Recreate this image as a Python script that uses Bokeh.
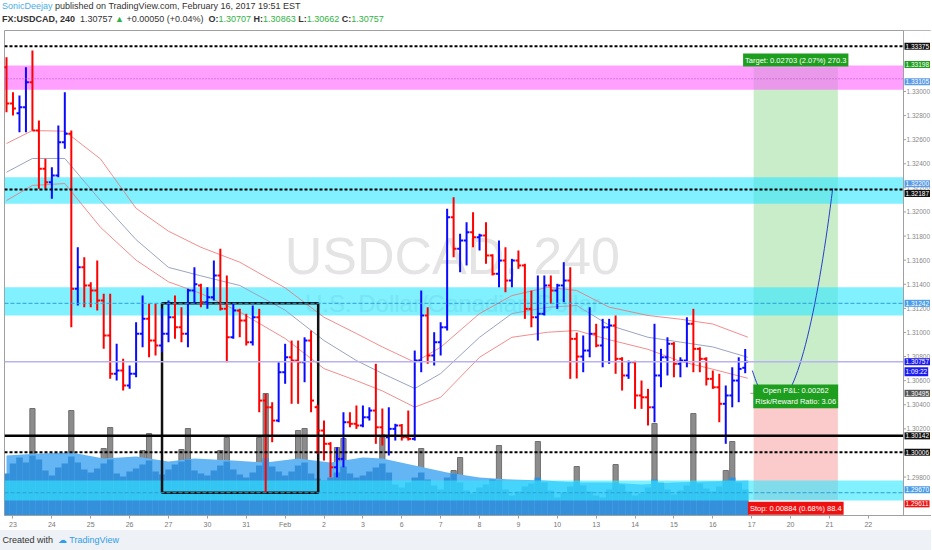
from bokeh.plotting import figure
from bokeh.layouts import column
from bokeh.models import ColumnDataSource, Range1d, FixedTicker, Label, Div
from bokeh.core.properties import value
from bokeh.embed import file_html
from bokeh.resources import INLINE

# USDCAD 240 bars, Jan 23 - Feb 16 2017
bar_open = [1.33201, 1.32900, 1.32820, 1.32869, 1.33077, 1.32676, 1.32358, 1.32247, 1.32303, 1.32579,
            1.32649, 1.31362, 1.31541, 1.31390, 1.31348, 1.31265, 1.30975, 1.30657, 1.30684, 1.30560,
            1.30657, 1.30989, 1.31113, 1.30933, 1.30892, 1.30989, 1.31126, 1.31043, 1.30989, 1.31348,
            1.31390, 1.31251, 1.31292, 1.31473, 1.31196, 1.30960, 1.31182, 1.31099, 1.30919, 1.31126,
            1.30435, 1.30379, 1.30269, 1.30670, 1.30794, 1.30767, 1.30753, 1.30933, 1.30380, 1.30186,
            1.30076, 1.29881, 1.29951, 1.30255, 1.30242, 1.30228, 1.30296, 1.30352, 1.30213, 1.30130,
            1.30200, 1.30228, 1.30130, 1.30117, 1.30767, 1.31141, 1.30809, 1.30919, 1.31043, 1.31956,
            1.31694, 1.31763, 1.31832, 1.31790, 1.31805, 1.31639, 1.31487, 1.31597, 1.31431, 1.31597,
            1.31556, 1.31196, 1.31126, 1.31155, 1.31390, 1.31348, 1.31390, 1.31431, 1.30947, 1.30800,
            1.30850, 1.30989, 1.30892, 1.31043, 1.31058, 1.30781, 1.30643, 1.30753, 1.30477, 1.30462,
            1.30379, 1.30643, 1.30794, 1.30906, 1.30740, 1.30767, 1.31072, 1.30864, 1.30781, 1.30615,
            1.30545, 1.30408, 1.30477, 1.30601, 1.30707]
bar_high = [1.33284, 1.32994, 1.32967, 1.33201, 1.33340, 1.32759, 1.32441, 1.32371, 1.32718, 1.32994,
            1.32676, 1.31707, 1.31624, 1.31417, 1.31597, 1.31321, 1.31321, 1.30906, 1.30781, 1.30726,
            1.31085, 1.31307, 1.31238, 1.31238, 1.31196, 1.31265, 1.31307, 1.31209, 1.31362, 1.31541,
            1.31404, 1.31375, 1.31597, 1.31694, 1.31473, 1.31238, 1.31196, 1.31155, 1.31224, 1.31196,
            1.30491, 1.30421, 1.30753, 1.30906, 1.30933, 1.30933, 1.30960, 1.31016, 1.30400, 1.30269,
            1.30090, 1.30047, 1.30338, 1.30338, 1.30394, 1.30394, 1.30379, 1.30740, 1.30369, 1.30379,
            1.30242, 1.30240, 1.30352, 1.30850, 1.31348, 1.31209, 1.31002, 1.31085, 1.32026, 1.32122,
            1.31819, 1.31915, 1.31998, 1.31819, 1.31915, 1.31650, 1.31763, 1.31707, 1.31611, 1.31680,
            1.31570, 1.31348, 1.31473, 1.31473, 1.31473, 1.31404, 1.31583, 1.31541, 1.30999, 1.30975,
            1.31209, 1.31072, 1.31113, 1.31113, 1.31141, 1.30795, 1.30767, 1.30765, 1.30601, 1.30532,
            1.31072, 1.30864, 1.30960, 1.30920, 1.30794, 1.31126, 1.31196, 1.30877, 1.30794, 1.30684,
            1.30657, 1.30560, 1.30711, 1.30794, 1.30863]
bar_low = [1.32828, 1.32801, 1.32662, 1.32662, 1.32676, 1.32192, 1.32192, 1.32109, 1.32288, 1.32524,
           1.31043, 1.31224, 1.31209, 1.31209, 1.31182, 1.30864, 1.30615, 1.30601, 1.30518, 1.30532,
           1.30628, 1.30877, 1.30794, 1.30809, 1.30836, 1.30919, 1.30947, 1.30919, 1.30877, 1.31238,
           1.31209, 1.31196, 1.31265, 1.31182, 1.30753, 1.30947, 1.30960, 1.30892, 1.30892, 1.30338,
           1.29674, 1.30089, 1.30255, 1.30574, 1.30408, 1.30408, 1.30587, 1.30338, 1.29993, 1.29937,
           1.29798, 1.29798, 1.29881, 1.30213, 1.30200, 1.30213, 1.30269, 1.30076, 1.30062, 1.29979,
           1.30103, 1.30103, 1.30103, 1.30103, 1.30670, 1.30740, 1.30726, 1.30809, 1.31016, 1.31624,
           1.31500, 1.31556, 1.31707, 1.31680, 1.31570, 1.31473, 1.31375, 1.31334, 1.31375, 1.31528,
           1.31113, 1.31043, 1.30933, 1.31141, 1.31238, 1.31196, 1.31251, 1.30615, 1.30618, 1.30670,
           1.30794, 1.30877, 1.30711, 1.30740, 1.30657, 1.30518, 1.30615, 1.30366, 1.30366, 1.30228,
           1.30255, 1.30545, 1.30643, 1.30628, 1.30628, 1.30711, 1.30670, 1.30670, 1.30560, 1.30532,
           1.30255, 1.30076, 1.30379, 1.30421, 1.30662]
bar_close = [1.32900, 1.32859, 1.32869, 1.33077, 1.32676, 1.32358, 1.32247, 1.32303, 1.32579, 1.32649,
             1.31362, 1.31541, 1.31390, 1.31348, 1.31265, 1.30975, 1.30657, 1.30684, 1.30560, 1.30657,
             1.30989, 1.31113, 1.30933, 1.30892, 1.30989, 1.31126, 1.31043, 1.30989, 1.31348, 1.31400,
             1.31251, 1.31292, 1.31473, 1.31196, 1.30960, 1.31182, 1.31099, 1.30919, 1.31126, 1.30435,
             1.30379, 1.30269, 1.30670, 1.30794, 1.30767, 1.30753, 1.30933, 1.30435, 1.30186, 1.30076,
             1.29881, 1.29951, 1.30255, 1.30242, 1.30228, 1.30296, 1.30352, 1.30213, 1.30145, 1.30200,
             1.30228, 1.30130, 1.30117, 1.30767, 1.31141, 1.30809, 1.30919, 1.31043, 1.31956, 1.31694,
             1.31763, 1.31832, 1.31790, 1.31805, 1.31639, 1.31487, 1.31597, 1.31431, 1.31597, 1.31556,
             1.31196, 1.31126, 1.31155, 1.31390, 1.31348, 1.31390, 1.31431, 1.30947, 1.30800, 1.30850,
             1.30989, 1.30892, 1.31043, 1.31058, 1.30781, 1.30643, 1.30753, 1.30477, 1.30462, 1.30379,
             1.30643, 1.30794, 1.30906, 1.30740, 1.30767, 1.31072, 1.30864, 1.30781, 1.30615, 1.30545,
             1.30408, 1.30477, 1.30601, 1.30698, 1.30757]

# volume (arbitrary units)
volume = [420, 520, 580, 530, 600, 560, 450, 400, 480, 520,
          590, 530, 460, 430, 470, 520, 560, 420, 390, 440,
          470, 510, 550, 440, 410, 460, 510, 540, 560, 450,
          420, 400, 450, 500, 540, 460, 410, 380, 430, 500,
          570, 490, 440, 400, 440, 500, 530, 420, 370, 350,
          380, 430, 490, 420, 380, 400, 440, 480, 520, 430,
          310, 280, 330, 380, 430, 360, 300, 260, 380, 420,
          330, 250, 220, 280, 310, 360, 350, 260, 200, 240,
          290, 320, 380, 330, 250, 180, 230, 290, 340, 300,
          240, 200, 180, 260, 330, 310, 240, 200, 220, 280,
          360, 330, 260, 210, 250, 300, 340, 320, 270, 240,
          290, 350, 380, 330, 260]
spike_idx = [4, 10, 15, 16, 21, 22, 27, 28, 33, 34, 39, 40, 45, 46, 51, 52, 58, 64,
             69, 70, 76, 82, 88, 94, 100, 106, 111, 112]
spike_vol = [1070, 1050, 670, 880, 650, 820, 660, 870, 650, 780, 780, 1220, 850, 870, 680, 770, 780, 670,
             450, 580, 700, 740, 490, 510, 920, 1020, 450, 740]
vol_ma_x = [0, 5, 10, 15, 20, 25, 29, 35, 40, 45, 50, 55, 58, 63, 68, 73, 78, 83, 88, 93, 98, 103, 108, 114.5]
vol_ma = [600, 620, 630, 570, 590, 540, 570, 550, 530, 570, 530, 580, 570, 500, 430, 380, 360, 350,
          330, 330, 310, 330, 340, 350]

# envelope
env_x = [0, 4, 9, 14.5, 20, 25, 30, 36, 43, 49, 54, 58, 63, 67, 73, 78, 83.5, 88, 93, 99, 104, 109, 114.4]
env_upper = [1.32568, 1.32676, 1.32670, 1.32440, 1.32030, 1.31840, 1.31707, 1.31583, 1.31370, 1.31126,
             1.30991, 1.30880, 1.30753, 1.30877, 1.31157, 1.31306, 1.31375, 1.31348, 1.31210, 1.31141,
             1.31110, 1.31070, 1.30961]
env_mid = [1.32330, 1.32444, 1.32444, 1.32095, 1.31770, 1.31540, 1.31470, 1.31390, 1.31185, 1.30933,
           1.30767, 1.30660, 1.30535, 1.30659, 1.30960, 1.31157, 1.31209, 1.31224, 1.31060, 1.30960,
           1.30920, 1.30880, 1.30794]
env_lower = [1.32095, 1.32220, 1.32236, 1.31873, 1.31600, 1.31420, 1.31323, 1.31170, 1.30950, 1.30700,
             1.30600, 1.30515, 1.30380, 1.30462, 1.30794, 1.30960, 1.31002, 1.31016, 1.30940, 1.30860,
             1.30760, 1.30695, 1.30620]

day_labels = ["23", "24", "25", "26", "27", "30", "31", "Feb", "2", "3", "6", "7", "8", "9", "10",
              "13", "14", "15", "16", "17", "20", "21", "22"]
bars_per_day = 6
price_ticks = [1.298, 1.300, 1.302, 1.304, 1.306, 1.308, 1.310, 1.312, 1.314, 1.316,
               1.318, 1.320, 1.322, 1.324, 1.326, 1.328, 1.330]

zone_top = [1.33216, 1.32288, 1.31375, 1.29771]
zone_bottom = [1.33014, 1.32068, 1.31141, 1.29605]
zone_color = ["#ff66ff", "#33e6ff", "#33e6ff", "#33e6ff"]

box_left, box_right, box_top, box_bottom = 24.0, 48.1, 1.31242, 1.29670
pos_left, pos_right = 115.3, 128.3
entry, target, stop = 1.30495, 1.33198, 1.29611
curve = dict(x0=115.1, y0=1.30684, cx0=120.0, cy0=1.29854, cx1=124.8, cy1=1.31016, x1=127.5, y1=1.32195)

levels = [1.33375, 1.33105, 1.32187, 1.31242, 1.30757, 1.30142, 1.30006, 1.29670]
level_color = ["black", "#b048c8", "black", "#2a9fd6", "#b8b2f0", "black", "black", "#2a9fd6"]
level_width = [2, 1, 2, 1, 1.5, 2.5, 2, 1]
level_dash = ["3 2", "1 2", "3 2", "4 2", "solid", "solid", "3 2", "4 2"]

badge_price = [1.33375, 1.33198, 1.33105, 1.32200, 1.32187, 1.31242, 1.30757, 1.30495, 1.30142, 1.30006,
               1.29670, 1.29611]
badge_color = ["#111111", "#1e9e1e", "#5b9be6", "#5b9be6", "#111111", "#4a9de8", "#1c1cf0", "#555555",
               "#111111", "#111111", "#4a9de8", "#ee1111"]
badge_shift = [0, 3, -3, 4, -4, 0, 0, 0, 0, 0, 3, -4]

FONT = "Liberation Sans"
x0, axis_x, x_end = -0.31, 138.43, 142.75
y0, y1 = 1.29481, 1.33506

p = figure(frame_width=927, frame_height=485, x_range=Range1d(x0, x_end), y_range=Range1d(y0, y1),
           y_axis_location=None, toolbar_location=None, output_backend="svg", title=None,
           min_border_left=4, min_border_right=0, min_border_top=0, min_border_bottom=13)
p.grid.visible = False
p.outline_line_color = "#a0a0a0"
p.border_fill_color = "white"
p.extra_y_ranges = {"vol": Range1d(0, 4850)}

# position tool
p.quad(left=[pos_left], right=[pos_right], bottom=[entry], top=[target], fill_color="#c9ecc9", line_color=None)
p.quad(left=[pos_left], right=[pos_right], bottom=[stop], top=[entry], fill_color="#fbcaca", line_color=None)
p.segment(x0=[pos_left - 0.5], y0=[entry], x1=[pos_right], y1=[entry], line_color="#999999", line_width=1)

# volume
p.vbar(x=spike_idx, top=spike_vol, width=0.8, y_range_name="vol", fill_color="#8c8c8c", line_color="#707070")
p.varea(x=vol_ma_x, y1=0, y2=vol_ma, y_range_name="vol", fill_color="#63b5f3")
idx = list(range(len(bar_close)))
p.vbar(x=idx, top=volume, width=1.0, y_range_name="vol", fill_color="#3590dc", line_color=None)

# watermark
p.text(x=[68.8], y=[1.31638], text=["USDCAD, 240"], text_font=value(FONT), text_font_size="52px",
       text_color="#e4e4e4", text_align="center", text_baseline="middle")
p.text(x=[68.8], y=[1.31240], text=["U.S. Dollar/Canadian Dollar"], text_font=value(FONT),
       text_font_size="24px", text_color="#e2e2e2", text_align="center", text_baseline="middle")

# zones
for zt, zb, zc in zip(zone_top, zone_bottom, zone_color):
    p.quad(left=[x0], right=[axis_x], bottom=[zb], top=[zt], fill_color=zc, fill_alpha=0.62, line_color=None)

# envelope
p.line(env_x, env_upper, line_color="#f07070", line_width=1, line_alpha=0.8)
p.line(env_x, env_mid, line_color="#9aa4c2", line_width=1)
p.line(env_x, env_lower, line_color="#f07070", line_width=1, line_alpha=0.8)

# rectangle drawing
p.quad(left=[box_left], right=[box_right], bottom=[box_bottom], top=[box_top], fill_color=None,
       line_color="#111111", line_width=2.5)

# OHLC bars
colors = ["#ff0000" if c < o else "#0a0aff" for o, c in zip(bar_open, bar_close)]
src = ColumnDataSource(dict(x=idx, xl=[i - 0.45 for i in idx], xr=[i + 0.45 for i in idx],
                            o=bar_open, h=bar_high, l=bar_low, c=bar_close, color=colors))
p.segment("x", "h", "x", "l", source=src, line_color="color", line_width=2)
p.segment("xl", "o", "x", "o", source=src, line_color="color", line_width=2)
p.segment("x", "c", "xr", "c", source=src, line_color="color", line_width=2)

p.bezier(source=ColumnDataSource({k: [v] for k, v in curve.items()}), x0="x0", y0="y0", x1="x1", y1="y1",
         cx0="cx0", cy0="cy0", cx1="cx1", cy1="cy1", line_color="#2a3fc8", line_width=1)

# horizontal levels
for lv, lc, lw, ld in zip(levels, level_color, level_width, level_dash):
    p.segment(x0=[x0], y0=[lv], x1=[axis_x], y1=[lv], line_color=lc, line_width=lw, line_dash=ld)

# price scale drawn inside the frame
p.quad(left=[axis_x], right=[x_end], bottom=[y0], top=[y1], fill_color="white", line_color=None)
p.segment(x0=[axis_x], y0=[y0], x1=[axis_x], y1=[y1], line_color="#a0a0a0", line_width=1)
p.segment(x0=[axis_x] * len(price_ticks), y0=price_ticks, x1=[axis_x + 0.4] * len(price_ticks),
          y1=price_ticks, line_color="#a0a0a0", line_width=1)
p.text(x=[axis_x] * len(price_ticks), y=price_ticks, text=["%.5f" % t for t in price_ticks], x_offset=3,
       text_font=value(FONT), text_font_size="6.5px", text_color="#888888", text_baseline="middle")

# bottom time axis
day_ticks = [1 + bars_per_day * k for k in range(len(day_labels))]
p.xaxis.ticker = FixedTicker(ticks=day_ticks)
p.xaxis.major_label_overrides = {t: s for t, s in zip(day_ticks, day_labels)}
p.xaxis.major_label_text_font = FONT
p.xaxis.major_label_text_font_size = "7px"
p.xaxis.major_label_text_color = "#777777"
p.xaxis.major_tick_out = 3
p.xaxis.major_tick_in = 0
p.xaxis.minor_tick_line_color = None
p.xaxis.axis_line_color = "#a0a0a0"
p.xaxis.major_tick_line_color = "#a0a0a0"
p.xaxis.major_label_standoff = 2

# price badges on the scale
for bp, bc, bs in zip(badge_price, badge_color, badge_shift):
    p.add_layout(Label(x=axis_x, y=bp, y_offset=bs, x_offset=1, text="%.5f" % bp, text_font=FONT,
                       text_font_size="6.5px", text_color="white", text_baseline="middle",
                       background_fill_color=bc, padding=1))
p.add_layout(Label(x=axis_x, y=1.30757, y_offset=-10, x_offset=1, text="1:09:22", text_font=FONT,
                   text_font_size="6.5px", text_color="white", text_baseline="middle",
                   background_fill_color="#1c1cf0", padding=1))

pos_mid = (pos_left + pos_right) / 2
p.add_layout(Label(x=pos_mid, y=target, text="Target: 0.02703 (2.07%) 270.3", text_font=FONT,
                   text_font_size="7.5px", text_color="white", text_align="center", text_baseline="bottom",
                   background_fill_color="#1e9e1e", padding=2, y_offset=1))
p.add_layout(Label(x=pos_mid, y=stop, text="Stop: 0.00884 (0.68%) 88.4", text_font=FONT,
                   text_font_size="7.5px", text_color="white", text_align="center", text_baseline="top",
                   background_fill_color="#ee1111", padding=2, y_offset=-2))
p.add_layout(Label(x=pos_mid, y=entry, text="Open P&L: 0.00262\nRisk/Reward Ratio: 3.06", text_font=FONT,
                   text_font_size="7.5px", text_color="white", text_align="center", text_baseline="middle",
                   background_fill_color="#1e9e1e", padding=2, y_offset=-3))

G = '<span style="color:#2fb344">%s</span>'
header = Div(width=931, height=30, margin=(0, 0, 0, 0), text=(
    '<div style="font-family:\'Liberation Sans\';font-size:9px;line-height:13px;color:#333;white-space:nowrap;'
    'padding-left:2px">'
    '<span style="color:#4aaee6">SonicDeejay</span> published on TradingView.com, February 16, 2017 19:51 EST<br>'
    '<b>FX:USDCAD, 240</b>&nbsp; 1.30757 ' + G % '&#9650;' + ' +0.00050 (+0.04%)&nbsp; '
    '<b>O:</b>' + G % '1.30707' + ' <b>H:</b>' + G % '1.30863' + ' <b>L:</b>' + G % '1.30662' +
    ' <b>C:</b>' + G % '1.30757' + '</div>'))
footer = Div(width=931, height=21, margin=(0, 0, 0, 0), text=(
    '<div style="font-family:\'Liberation Sans\';font-size:9px;line-height:21px;color:#333;width:931px;'
    'height:21px;background:#eef1f5;white-space:nowrap">&nbsp;Created with &nbsp;'
    '<span style="color:#2f9ee8">&#9729; TradingView</span></div>'))

layout = column(header, p, footer, spacing=0)
open("out.html", "w").write(file_html(layout, INLINE))
